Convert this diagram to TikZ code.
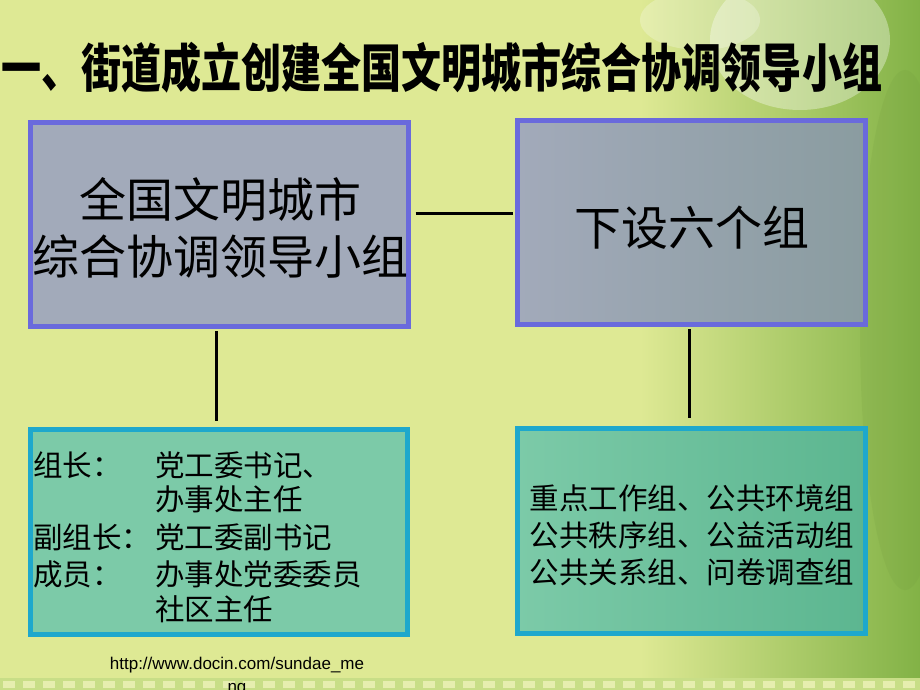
\documentclass[tikz,border=0pt]{standalone}
\usepackage{fontspec}
\setmainfont{Liberation Sans}
\newfontfamily\cjk{Noto Sans CJK SC}
\newfontfamily\titlefont[FakeStretch=0.77]{Noto Sans CJK SC}
\definecolor{bgbase}{RGB}{222,233,148}
\definecolor{bgright}{RGB}{130,178,70}
\definecolor{bordblue}{RGB}{106,106,220}
\definecolor{bordcyan}{RGB}{30,168,204}
\definecolor{fillA}{RGB}{162,170,186}
\definecolor{fillBr}{RGB}{138,156,160}
\definecolor{fillC}{RGB}{124,202,168}
\definecolor{fillDr}{RGB}{92,182,144}
\definecolor{stripc}{RGB}{200,222,135}
\begin{document}
\begin{tikzpicture}[x=1pt,y=-1pt,
  bluebox/.style={draw=bordblue, line width=5pt, inner sep=0pt, outer sep=0pt, minimum width=#1},
  cyanbox/.style={draw=bordcyan, line width=5pt, inner sep=0pt, outer sep=0pt, minimum width=#1},
  conn/.style={draw=black, line width=3pt},
  bigtxt/.style={font=\cjk\fontsize{47}{57}\selectfont, align=center, inner sep=0pt},
  smalltxt/.style={font=\cjk\fontsize{29.5}{37}\selectfont, inner sep=0pt},
  urltxt/.style={font=\fontsize{17}{23}\selectfont, align=center, inner sep=0pt}]
\useasboundingbox (0,0) rectangle (920,690);
% background
\fill[bgbase] (0,0) rectangle (920,690);
\shade[left color=bgbase, right color=bgright] (640,0) rectangle (920,690);
\fill[white, opacity=0.35] (800,40) ellipse (90 and 70);
\fill[white, opacity=0.25] (700,20) ellipse (60 and 30);
\fill[bgright!85!black, opacity=0.15] (905,330) ellipse (45 and 260);
\fill[stripc] (0,678) rectangle (920,690);
\foreach \i in {0,...,46} \fill[bgbase!75!white] (\i*20+3,681) rectangle +(12,7);
% title
\node[font=\titlefont\bfseries\fontsize{52}{52}\selectfont, inner sep=0pt, anchor=west] (title) at (1,68) {一、街道成立创建全国文明城市综合协调领导小组};
% boxes
\node[bluebox=378pt, minimum height=204pt, fill=fillA] (A) at (219.5,224.5) {};
\node[bluebox=348pt, minimum height=204pt, left color=fillA, right color=fillBr] (B) at (691.5,222.5) {};
\node[cyanbox=377pt, minimum height=205pt, fill=fillC] (C) at (219,532) {};
\node[cyanbox=348pt, minimum height=205pt, left color=fillC, right color=fillDr] (D) at (691.5,531) {};
% box texts
\node[bigtxt] (At) at (220,228) {全国文明城市\\综合协调领导小组};
\node[bigtxt] (Bt) at (692,228) {下设六个组};
\node[smalltxt, anchor=west] (c1) at (33,465) {组长：};
\node[smalltxt, anchor=west] (c2) at (155,465) {党工委书记、};
\node[smalltxt, anchor=west] (c3) at (155,499) {办事处主任};
\node[smalltxt, anchor=west] (c4) at (33,537) {副组长：};
\node[smalltxt, anchor=west] (c5) at (155,537) {党工委副书记};
\node[smalltxt, anchor=west] (c6) at (33,574) {成员：};
\node[smalltxt, anchor=west] (c7) at (155,574) {办事处党委委员};
\node[smalltxt, anchor=west] (c8) at (155,609) {社区主任};
\node[smalltxt, align=center] (Dt) at (692,535) {重点工作组、公共环境组\\公共秩序组、公益活动组\\公共关系组、问卷调查组};
% connectors
\draw[conn, shorten >=5pt] ([xshift=7pt,yshift=11.5pt]A.east) -- ([yshift=11.5pt]A.east -| B.west);
\draw[conn, shorten <=4.5pt, shorten >=8.5pt] ([xshift=-3.5pt]A.south) -- ([xshift=-3.5pt]A.south |- C.north);
\draw[conn, shorten <=4.5pt, shorten >=10.5pt] ([xshift=-2.5pt]B.south) -- ([xshift=-2.5pt]B.south |- D.north);
% url
\node[urltxt] (url) at (237,677) {http://www.docin.com/sundae\_me\\ng};
\end{tikzpicture}
\end{document}
